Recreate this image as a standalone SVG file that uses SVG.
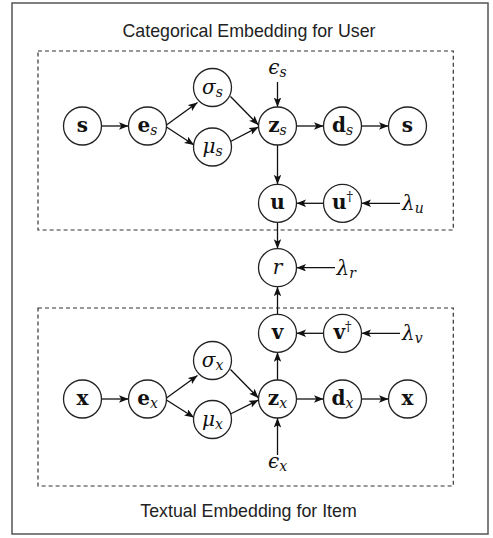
<svg xmlns="http://www.w3.org/2000/svg" width="493" height="538" viewBox="0 0 493 538">
  <defs>
    <marker id="arrow" markerUnits="userSpaceOnUse" markerWidth="10" markerHeight="8" refX="9.5" refY="3.75" orient="auto">
      <path d="M0,0 L9.5,3.75 L0,7.5 L2.2,3.75 z" fill="#111"/>
    </marker>
    <style>
      .frame { fill: #fff; stroke: #555; stroke-width: 1.5; }
      .group { fill: none; stroke: #333; stroke-width: 1.2; stroke-dasharray: 4 3; }
      .title { font-family: "Liberation Sans", Arial, sans-serif; font-size: 17.8px; fill: #222; text-anchor: middle; }
      .node circle { fill: #fff; stroke: #222; stroke-width: 1.3; }
      .lbl { font-family: "DejaVu Serif", "Liberation Serif", serif; font-size: 20px; fill: #111; text-anchor: middle; }
      .b { font-weight: bold; }
      .i { font-style: italic; }
      .sub { font-family: "DejaVu Serif", "Liberation Serif", serif; font-style: italic; font-weight: normal; font-size: 14px; }
      .sup { font-family: "DejaVu Serif", "Liberation Serif", serif; font-weight: normal; font-size: 13px; }
      .param { font-family: "DejaVu Serif", "Liberation Serif", serif; font-size: 20px; font-style: italic; fill: #111; }
      #edges path { fill: none; stroke: #111; stroke-width: 1.3; marker-end: url(#arrow); }
    </style>
  </defs>

  <rect class="frame" x="12" y="3" width="476" height="531"/>

  <!-- plates -->
  <rect class="group" x="38" y="51" width="415.3" height="179"/>
  <rect class="group" x="38" y="308" width="415.3" height="178"/>
  <text class="title" x="249" y="37">Categorical Embedding for User</text>
  <text class="title" x="248.5" y="516.5">Textual Embedding for Item</text>

  <!-- connectors -->
  <g id="edges">
    <path d="M101.5,126 H128.5"/>
    <path d="M166.5,125 L197.5,102.5"/>
    <path d="M166.5,127 L194,145"/>
    <path d="M230.5,96.5 L258.5,125"/>
    <path d="M230.5,141.5 L258.5,127"/>
    <path d="M277.5,82 V107"/>
    <path d="M296.5,126 H323.5"/>
    <path d="M361.5,126 H388.5"/>
    <path d="M277.5,145 V184.3"/>
    <path d="M323.5,203.3 H296.5"/>
    <path d="M400,203.3 H361.5"/>
    <path d="M277.5,222.3 V248.7"/>
    <path d="M335,267.7 H296.5"/>
    <path d="M277.5,314.3 V286.7"/>
    <path d="M323.5,333.3 H296.5"/>
    <path d="M400,333.3 H361.5"/>
    <path d="M277.5,380 V352.3"/>
    <path d="M277.5,455 V418"/>
    <path d="M101.5,399 H128.5"/>
    <path d="M166.5,398 L197.5,375.5"/>
    <path d="M166.5,400 L194,417.5"/>
    <path d="M230.5,369.5 L258.5,398"/>
    <path d="M230.5,414 L258.5,400"/>
    <path d="M296.5,399 H323.5"/>
    <path d="M361.5,399 H388.5"/>
  </g>

  <!-- user branch -->
  <g id="s_in" class="node"><circle cx="82.5" cy="126" r="19"/><text class="lbl b" x="82.5" y="132">s</text></g>
  <g id="e_s" class="node"><circle cx="147.5" cy="126" r="19"/><text class="lbl b" x="147.5" y="132">e<tspan class="sub" dy="3">s</tspan></text></g>
  <g id="sigma_s" class="node"><circle cx="212.5" cy="87.5" r="19"/><text class="lbl i" x="212.5" y="93.5">σ<tspan class="sub" dy="3">s</tspan></text></g>
  <g id="mu_s" class="node"><circle cx="212.5" cy="147" r="19"/><text class="lbl i" x="212.5" y="153">μ<tspan class="sub" dy="3">s</tspan></text></g>
  <g id="z_s" class="node"><circle cx="277.5" cy="126" r="19"/><text class="lbl b" x="277.5" y="132">z<tspan class="sub" dy="3">s</tspan></text></g>
  <g id="d_s" class="node"><circle cx="342.5" cy="126" r="19"/><text class="lbl b" x="342.5" y="132">d<tspan class="sub" dy="3">s</tspan></text></g>
  <g id="s_out" class="node"><circle cx="407.5" cy="126" r="19"/><text class="lbl b" x="407.5" y="132">s</text></g>
  <g id="u" class="node"><circle cx="277.5" cy="203.3" r="19"/><text class="lbl b" x="277.5" y="209.3">u</text></g>
  <g id="u_dag" class="node"><circle cx="342.5" cy="203.3" r="19"/><text class="lbl b" x="342.5" y="209.3">u<tspan class="sup" dy="-8">†</tspan></text></g>
  <g id="eps_s"><text class="param" x="277.5" y="73.5" text-anchor="middle">ϵ<tspan class="sub" dy="3">s</tspan></text></g>
  <g id="lambda_u"><text class="param" x="402" y="210">λ<tspan class="sub" dy="3">u</tspan></text></g>

  <!-- rating -->
  <g id="r" class="node"><circle cx="277.5" cy="267.7" r="19"/><text class="lbl i" x="277.5" y="273.7">r</text></g>
  <g id="lambda_r"><text class="param" x="336.5" y="274.5">λ<tspan class="sub" dy="3">r</tspan></text></g>

  <!-- item branch -->
  <g id="v" class="node"><circle cx="277.5" cy="333.3" r="19"/><text class="lbl b" x="277.5" y="339.3">v</text></g>
  <g id="v_dag" class="node"><circle cx="342.5" cy="333.3" r="19"/><text class="lbl b" x="342.5" y="339.3">v<tspan class="sup" dy="-8">†</tspan></text></g>
  <g id="lambda_v"><text class="param" x="402" y="340">λ<tspan class="sub" dy="3">v</tspan></text></g>
  <g id="x_in" class="node"><circle cx="82.5" cy="399" r="19"/><text class="lbl b" x="82.5" y="405">x</text></g>
  <g id="e_x" class="node"><circle cx="147.5" cy="399" r="19"/><text class="lbl b" x="147.5" y="405">e<tspan class="sub" dy="3">x</tspan></text></g>
  <g id="sigma_x" class="node"><circle cx="212.5" cy="360.5" r="19"/><text class="lbl i" x="212.5" y="366.5">σ<tspan class="sub" dy="3">x</tspan></text></g>
  <g id="mu_x" class="node"><circle cx="212.5" cy="419.5" r="19"/><text class="lbl i" x="212.5" y="425.5">μ<tspan class="sub" dy="3">x</tspan></text></g>
  <g id="z_x" class="node"><circle cx="277.5" cy="399" r="19"/><text class="lbl b" x="277.5" y="405">z<tspan class="sub" dy="3">x</tspan></text></g>
  <g id="d_x" class="node"><circle cx="342.5" cy="399" r="19"/><text class="lbl b" x="342.5" y="405">d<tspan class="sub" dy="3">x</tspan></text></g>
  <g id="x_out" class="node"><circle cx="407.5" cy="399" r="19"/><text class="lbl b" x="407.5" y="405">x</text></g>
  <g id="eps_x"><text class="param" x="277.5" y="468" text-anchor="middle">ϵ<tspan class="sub" dy="3">x</tspan></text></g>
</svg>
